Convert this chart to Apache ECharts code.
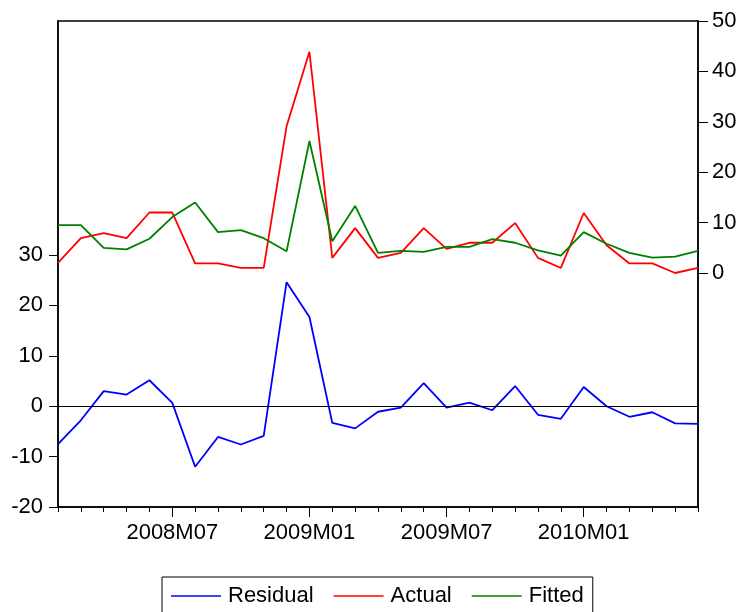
<!DOCTYPE html>
<html>
<head>
<meta charset="utf-8">
<script src="https://cdn.jsdelivr.net/npm/echarts@6/dist/echarts.min.js"></script>
<style>
  html, body { margin: 0; padding: 0; background: #fff; }
  #chart { width: 740px; height: 612px; }
</style>
</head>
<body>
<div id="chart"></div>
<script>
// Monthly observations, 2008M02 – 2010M06
const months = [
  '2008M02','2008M03','2008M04','2008M05','2008M06','2008M07','2008M08','2008M09','2008M10','2008M11','2008M12',
  '2009M01','2009M02','2009M03','2009M04','2009M05','2009M06','2009M07','2009M08','2009M09','2009M10','2009M11','2009M12',
  '2010M01','2010M02','2010M03','2010M04','2010M05','2010M06'
];
const residual = [-7.5, -2.8, 3.0, 2.3, 5.15, 0.66, -12.0, -6.1, -7.6, -5.9, 24.6, 17.7, -3.3, -4.4,
  -1.1, -0.3, 4.6, -0.3, 0.7, -0.8, 4.0, -1.7, -2.5, 3.8, 0.0, -2.1, -1.2, -3.4, -3.5];
const actual = [2.0, 6.9, 7.9, 6.9, 12.0, 12.0, 1.9, 1.9, 1.0, 1.0, 29.1, 43.9, 3.0, 8.9,
  3.0, 4.0, 8.9, 4.8, 6.0, 6.0, 9.9, 3.0, 1.0, 11.9, 5.5, 1.9, 1.9, 0.0, 1.0];
const fitted = [9.5, 9.5, 5.0, 4.7, 6.8, 11.1, 14.0, 8.1, 8.5, 6.9, 4.3, 26.2, 6.3, 13.3,
  4.0, 4.4, 4.2, 5.2, 5.2, 6.7, 6.0, 4.5, 3.45, 8.1, 5.8, 4.0, 3.05, 3.25, 4.4];

// Tick labels
const residualTicks = [-20, -10, 0, 10, 20, 30];
const levelTicks = [0, 10, 20, 30, 40, 50];
const majorMonths = ['2008M07', '2009M01', '2009M07', '2010M01'];

// Axis ranges: residual panel at the bottom, levels at the top
const residualRange = [-20, 76.43];
const levelRange = [-46.43, 50];

const FONT = "'Liberation Sans', Arial, sans-serif";
const isMajor = (i) => majorMonths.indexOf(months[i]) >= 0;

const chart = echarts.init(document.getElementById('chart'), null, { renderer: 'canvas' });

chart.setOption({
  animation: false,
  backgroundColor: '#fff',
  textStyle: { fontFamily: FONT },
  grid: {
    left: 58, right: 42, top: 21, bottom: 105,
    show: true, borderColor: '#000', borderWidth: 1.5, backgroundColor: 'transparent'
  },
  legend: {
    left: 162, top: 577,
    padding: [8, 9, 30, 9],
    borderColor: '#000', borderWidth: 1,
    icon: 'rect',
    itemWidth: 50, itemHeight: 1.5, itemGap: 20,
    textStyle: { fontSize: 22, color: '#000', fontFamily: FONT, padding: [0, 0, 0, 2] },
    data: ['Residual', 'Actual', 'Fitted']
  },
  xAxis: [
    {
      type: 'category', data: months, boundaryGap: false, position: 'bottom',
      axisLine: { show: true, onZero: false, lineStyle: { color: '#000', width: 1.5 } },
      axisTick: { show: true, interval: 0, length: 5, inside: false, lineStyle: { color: '#000', width: 1 } },
      axisLabel: {
        interval: (i) => isMajor(i), margin: 15,
        fontSize: 22, color: '#000', fontFamily: FONT
      },
      splitLine: { show: false }
    },
    {
      // longer ticks at the labelled months
      type: 'category', data: months, boundaryGap: false, position: 'bottom', offset: 0,
      axisLine: { show: false, onZero: false },
      axisTick: { show: true, interval: (i) => isMajor(i), length: 10, lineStyle: { color: '#000', width: 1 } },
      axisLabel: { show: false },
      splitLine: { show: false }
    }
  ],
  yAxis: [
    {
      type: 'value', position: 'left',
      min: residualRange[0], max: residualRange[1],
      axisLine: { show: true, lineStyle: { color: '#000', width: 1.5 } },
      axisTick: { show: true, length: 9, customValues: residualTicks, lineStyle: { color: '#000', width: 1 } },
      axisLabel: { customValues: residualTicks, margin: 15, fontSize: 22, color: '#000', fontFamily: FONT },
      splitLine: { show: false }
    },
    {
      type: 'value', position: 'right',
      min: levelRange[0], max: levelRange[1],
      axisLine: { show: true, lineStyle: { color: '#000', width: 1.5 } },
      axisTick: { show: true, length: 10, customValues: levelTicks, lineStyle: { color: '#000', width: 1 } },
      axisLabel: { customValues: levelTicks, margin: 14, fontSize: 22, color: '#000', fontFamily: FONT },
      splitLine: { show: false }
    }
  ],
  series: [
    {
      name: 'Residual', type: 'line', xAxisIndex: 0, yAxisIndex: 0,
      data: residual, symbol: 'none', color: '#0000ff',
      lineStyle: { color: '#0000ff', width: 1.8 },
      markLine: {
        silent: true, symbol: 'none', label: { show: false },
        lineStyle: { color: '#000', width: 1, type: 'solid' },
        data: [{ yAxis: 0 }]
      }
    },
    {
      name: 'Actual', type: 'line', xAxisIndex: 0, yAxisIndex: 1,
      data: actual, symbol: 'none', color: '#ff0000',
      lineStyle: { color: '#ff0000', width: 1.8 }
    },
    {
      name: 'Fitted', type: 'line', xAxisIndex: 0, yAxisIndex: 1,
      data: fitted, symbol: 'none', color: '#008000',
      lineStyle: { color: '#008000', width: 1.8 }
    }
  ]
});
</script>
</body>
</html>
